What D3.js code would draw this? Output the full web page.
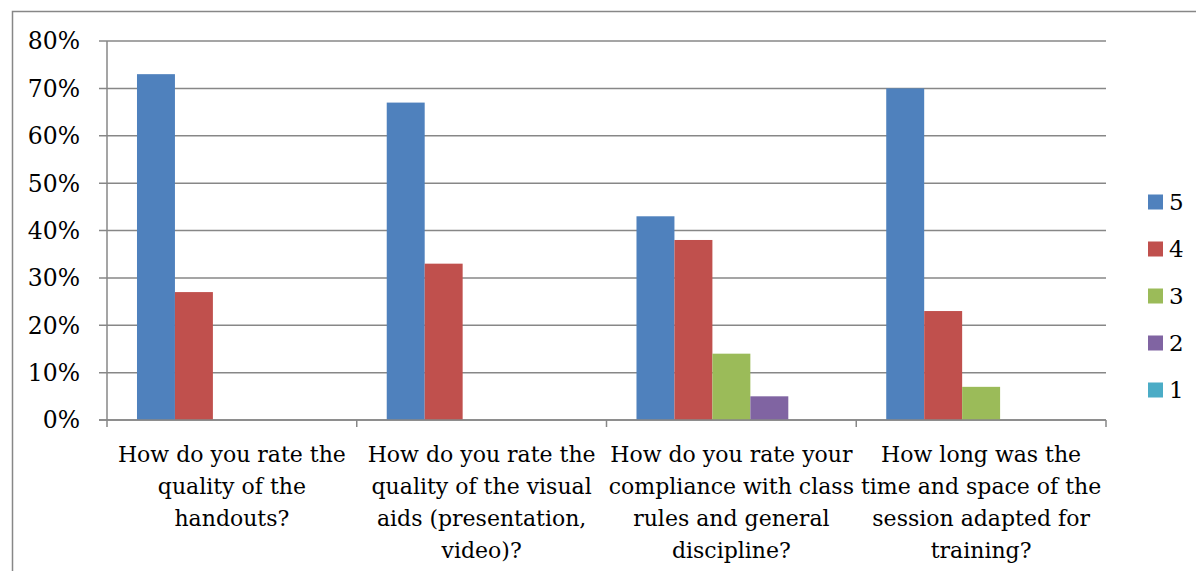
<!DOCTYPE html>
<html>
<head>
<meta charset="utf-8">
<script src="https://cdn.jsdelivr.net/npm/d3@7"></script>
<style>
  body { margin: 0; background: #fff; }
  svg { display: block; }
  text { font-family: "DejaVu Serif", serif; fill: #000; }
</style>
</head>
<body>
<div id="chart"></div>
<script>
const categories = [
  ["How do you rate the", "quality of the", "handouts?"],
  ["How do you rate the", "quality of the visual", "aids (presentation,", "video)?"],
  ["How do you rate your", "compliance with class", "rules and general", "discipline?"],
  ["How long was the", "time and space of the", "session adapted for", "training?"]
];
const seriesNames = ["5", "4", "3", "2", "1"];
const seriesColors = ["#4F81BD", "#C0504D", "#9BBB59", "#8064A2", "#4BACC6"];
const values = [
  [0.73, 0.27, 0, 0, 0],
  [0.67, 0.33, 0, 0, 0],
  [0.43, 0.38, 0.14, 0.05, 0],
  [0.70, 0.23, 0.07, 0, 0]
];
const yTicks = [0, 0.1, 0.2, 0.3, 0.4, 0.5, 0.6, 0.7, 0.8];

const width = 1196, height = 571;
const plot = { left: 107, right: 1106, top: 41, bottom: 420 };

const svg = d3.select("#chart").append("svg")
  .attr("width", width).attr("height", height);

// outer chart frame
svg.append("rect")
  .attr("x", 12.5).attr("y", 11.5)
  .attr("width", 1300).attr("height", 700)
  .attr("fill", "none").attr("stroke", "#878787").attr("stroke-width", 1.5);

const x0 = d3.scaleBand()
  .domain(d3.range(categories.length))
  .range([plot.left, plot.right])
  .paddingInner(0).paddingOuter(0);

const x1 = d3.scaleBand()
  .domain(d3.range(seriesNames.length))
  .range([0, x0.bandwidth()])
  .paddingOuter(0.79);

const y = d3.scaleLinear().domain([0, 0.8]).range([plot.bottom, plot.top]);

// gridlines
svg.append("g")
  .selectAll("line")
  .data(yTicks)
  .join("line")
  .attr("x1", plot.left - 8).attr("x2", plot.right)
  .attr("y1", d => y(d)).attr("y2", d => y(d))
  .attr("stroke", "#878787").attr("stroke-width", 1.5);

// y axis
svg.append("line")
  .attr("x1", plot.left).attr("x2", plot.left)
  .attr("y1", plot.top).attr("y2", plot.bottom)
  .attr("stroke", "#878787").attr("stroke-width", 1.5);

svg.append("g")
  .selectAll("text")
  .data(yTicks)
  .join("text")
  .attr("x", 80).attr("y", d => y(d))
  .attr("dy", "0.36em")
  .attr("text-anchor", "end")
  .style("font-size", "23.5px")
  .text(d3.format(".0%"));

// bars
const groups = svg.append("g")
  .selectAll("g")
  .data(values)
  .join("g")
  .attr("transform", (d, i) => `translate(${x0(i)},0)`);

groups.selectAll("rect")
  .data(d => d.map((v, j) => ({ v, j })))
  .join("rect")
  .attr("x", d => x1(d.j))
  .attr("width", x1.bandwidth())
  .attr("y", d => y(d.v))
  .attr("height", d => y(0) - y(d.v))
  .attr("fill", d => seriesColors[d.j]);

// x axis line + ticks
svg.append("line")
  .attr("x1", plot.left - 8).attr("x2", plot.right)
  .attr("y1", plot.bottom).attr("y2", plot.bottom)
  .attr("stroke", "#878787").attr("stroke-width", 1.5);

svg.append("g")
  .selectAll("line")
  .data(d3.range(categories.length + 1))
  .join("line")
  .attr("x1", i => i < categories.length ? x0(i) : plot.right)
  .attr("x2", i => i < categories.length ? x0(i) : plot.right)
  .attr("y1", plot.bottom).attr("y2", plot.bottom + 7)
  .attr("stroke", "#878787").attr("stroke-width", 1.5);

// category labels
svg.append("g")
  .selectAll("text")
  .data(categories)
  .join("text")
  .attr("x", (d, i) => x0(i) + x0.bandwidth() / 2)
  .attr("y", 462)
  .attr("text-anchor", "middle")
  .style("font-size", "22px")
  .selectAll("tspan")
  .data(d => d)
  .join("tspan")
  .attr("x", function () { return this.parentNode.getAttribute("x"); })
  .attr("dy", (d, i) => i === 0 ? 0 : 32)
  .text(d => d);

// legend
const legend = svg.append("g")
  .selectAll("g")
  .data(seriesNames)
  .join("g")
  .attr("transform", (d, i) => `translate(1148,${202 + i * 47})`);

legend.append("rect")
  .attr("x", 0).attr("y", -7.5)
  .attr("width", 15).attr("height", 15)
  .attr("fill", (d, i) => seriesColors[i]);

legend.append("text")
  .attr("x", 21).attr("y", 0)
  .attr("dy", "0.36em")
  .style("font-size", "23px")
  .text(d => d);
</script>
</body>
</html>
